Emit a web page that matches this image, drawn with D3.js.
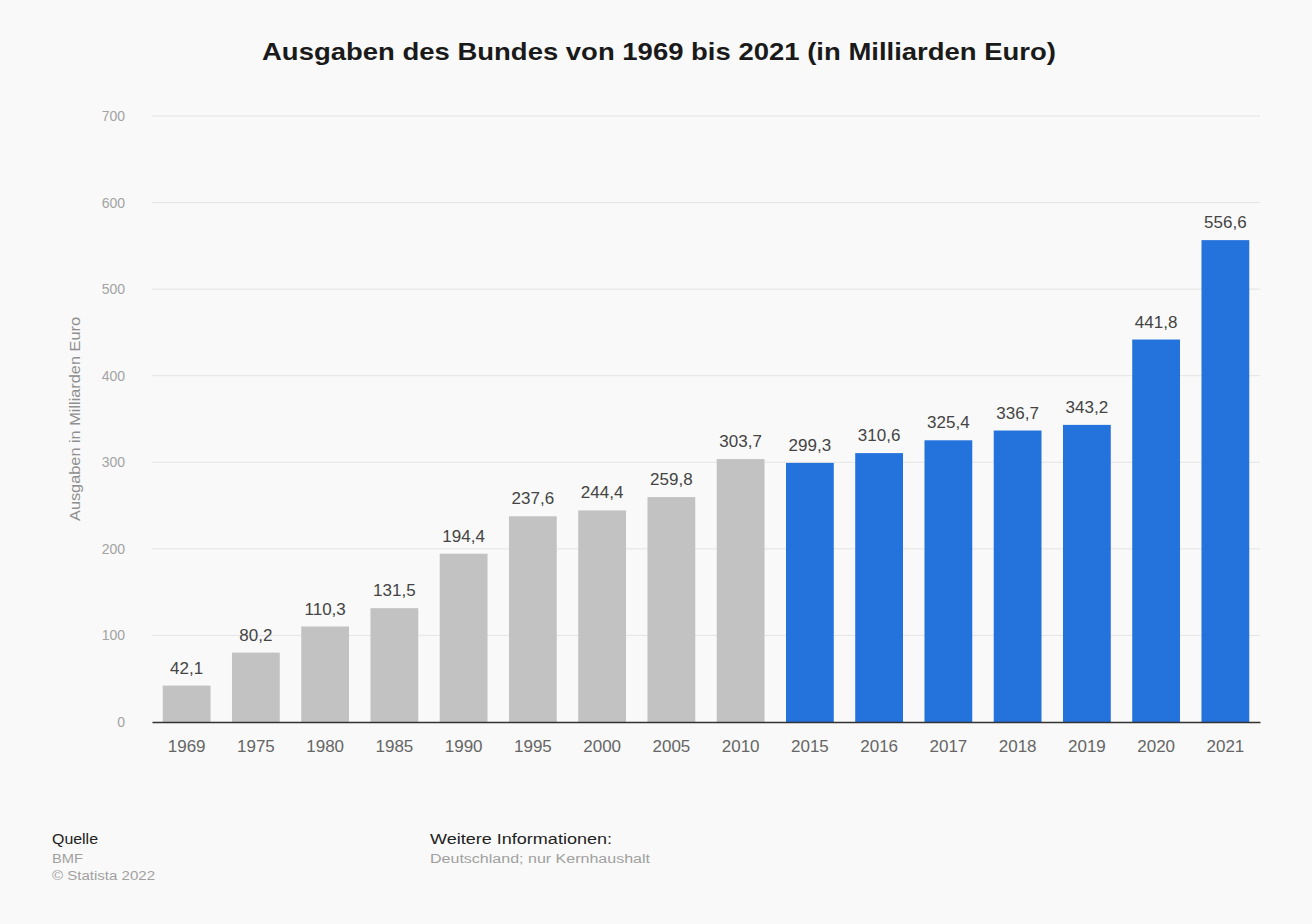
<!DOCTYPE html>
<html lang="de">
<head>
<meta charset="utf-8">
<title>Ausgaben des Bundes</title>
<script src="https://cdn.jsdelivr.net/npm/d3@7"></script>
<style>
  html, body { margin: 0; padding: 0; background: #fafafa; }
  svg { display: block; font-family: "Liberation Sans", Arial, Helvetica, sans-serif; }
</style>
</head>
<body>
<svg id="chart" width="1312" height="924"></svg>
<script>
// Federal expenditure, billions of euro
const years = ["1969","1975","1980","1985","1990","1995","2000","2005","2010","2015","2016","2017","2018","2019","2020","2021"];
const values = [42.1, 80.2, 110.3, 131.5, 194.4, 237.6, 244.4, 259.8, 303.7, 299.3, 310.6, 325.4, 336.7, 343.2, 441.8, 556.6];
const highlighted = ["2015","2016","2017","2018","2019","2020","2021"];
const yTicks = [0, 100, 200, 300, 400, 500, 600, 700];

const svg = d3.select("#chart");
const W = 1312, H = 924;
const margin = { left: 152, right: 52, top: 116, bottom: 202 };

svg.append("rect").attr("width", W).attr("height", H).attr("fill", "#f9f9f9");

const x = d3.scaleBand()
  .domain(years)
  .range([margin.left, W - margin.right])
  .paddingInner(0.31)
  .paddingOuter(0.155);

const y = d3.scaleLinear()
  .domain([0, 700])
  .range([H - margin.bottom, margin.top]);

// Title
svg.append("text")
  .attr("x", 262).attr("y", 60)
  .attr("font-size", 24).attr("font-weight", "bold").attr("fill", "#1a1a1a")
  .attr("textLength", 794).attr("lengthAdjust", "spacingAndGlyphs")
  .text("Ausgaben des Bundes von 1969 bis 2021 (in Milliarden Euro)");

// Horizontal gridlines
svg.append("g")
  .selectAll("line")
  .data(yTicks.filter(d => d > 0))
  .join("line")
  .attr("x1", margin.left).attr("x2", W - margin.right)
  .attr("y1", d => y(d)).attr("y2", d => y(d))
  .attr("stroke", "#e4e4e4").attr("stroke-width", 1);

// Y axis (labels only)
const yAxis = svg.append("g")
  .attr("transform", `translate(${margin.left - 27},0)`)
  .call(d3.axisLeft(y).tickValues(yTicks).tickSize(0).tickPadding(0));
yAxis.select(".domain").remove();
yAxis.selectAll("text")
  .attr("font-size", 14).attr("fill", "#a3a3a3")
  .attr("font-family", "Liberation Sans, Arial, sans-serif");

// Y axis title
svg.append("text")
  .attr("transform", `translate(80,${y(350)}) rotate(-90)`)
  .attr("x", -102)
  .attr("font-size", 14).attr("fill", "#8f8f8f")
  .attr("textLength", 204).attr("lengthAdjust", "spacingAndGlyphs")
  .text("Ausgaben in Milliarden Euro");

// Bars
const rows = years.map((yr, i) => ({ yr, v: values[i] }));
svg.append("g")
  .selectAll("rect")
  .data(rows)
  .join("rect")
  .attr("x", d => x(d.yr))
  .attr("width", x.bandwidth())
  .attr("y", d => y(d.v))
  .attr("height", d => y(0) - y(d.v))
  .attr("fill", d => highlighted.includes(d.yr) ? "#2472dc" : "#c2c2c2");

// Value labels
const fmt = v => v.toFixed(1).replace(".", ",");
svg.append("g")
  .selectAll("text")
  .data(rows)
  .join("text")
  .attr("x", d => x(d.yr) + x.bandwidth() / 2)
  .attr("y", d => y(d.v) - 12)
  .attr("text-anchor", "middle")
  .attr("font-size", 17).attr("fill", "#444")
  .text(d => fmt(d.v));

// X axis
const xAxis = svg.append("g")
  .attr("transform", `translate(0,${y(0)})`)
  .call(d3.axisBottom(x).tickSize(0).tickPadding(18));
xAxis.select(".domain").attr("stroke", "#333").attr("stroke-width", 1.5);
xAxis.selectAll("text")
  .attr("font-size", 17).attr("fill", "#666")
  .attr("font-family", "Liberation Sans, Arial, sans-serif");

// Footer
const foot = svg.append("g");
const footText = (tx, ty, size, color, len, s) =>
  foot.append("text").attr("x", tx).attr("y", ty)
    .attr("font-size", size).attr("fill", color)
    .attr("textLength", len).attr("lengthAdjust", "spacingAndGlyphs")
    .text(s);
footText(52, 844, 14, "#222", 46, "Quelle");
footText(52, 863, 12, "#a0a0a0", 31, "BMF");
footText(52, 880, 12, "#a0a0a0", 103, "© Statista 2022");
footText(430, 844, 14, "#222", 182, "Weitere Informationen:");
footText(430, 863, 12, "#a0a0a0", 220, "Deutschland; nur Kernhaushalt");
</script>
</body>
</html>
